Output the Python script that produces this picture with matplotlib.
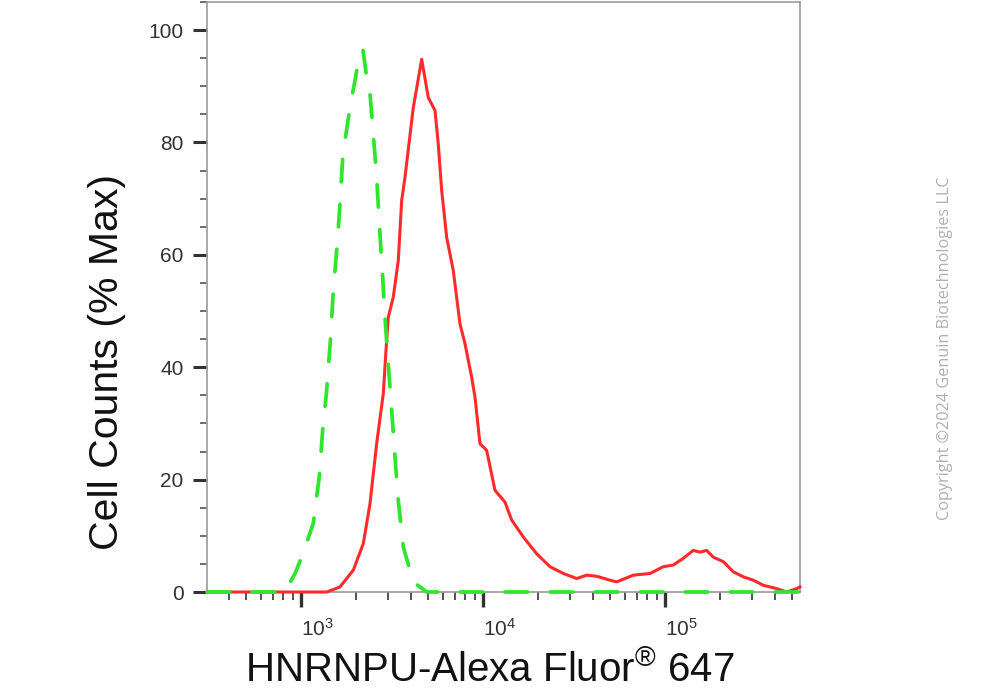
import matplotlib
matplotlib.use('Agg')
import matplotlib.pyplot as plt
import matplotlib.ticker as mticker
import numpy as np

plt.rcParams['font.family'] = ['Liberation Sans', 'DejaVu Sans']
plt.rcParams['mathtext.fontset'] = 'custom'
plt.rcParams['mathtext.rm'] = 'Liberation Sans'
plt.rcParams['mathtext.it'] = 'Liberation Sans:italic'

# isotype control (green dashed)
ctrl_x = [305, 817, 927, 1009, 1168, 1260, 1316, 1384, 1456, 1505, 1583, 1638,
          1701, 1858, 2057, 2191, 2296, 2394, 2487, 2605, 2693, 2797, 2894,
          3018, 3122, 3285, 3425, 3649, 4140, 4906, 552000]
ctrl_y = [0, 0, 3.3, 6.2, 12.2, 20.5, 28.8, 35.9, 45.4, 53.7, 62.0, 69.1,
          78.0, 86.2, 94.0, 96.5, 91.6, 88.7, 82.1, 73.8, 65.6, 57.2, 48.9,
          40.6, 34.1, 24.0, 16.3, 8.0, 1.8, 0, 0]

# HNRNPU stained (red solid)
hnrnpu_x = [305, 1384, 1638, 1939, 2199, 2394, 2605, 2833, 2931, 3018, 3215,
            3425, 3575, 3728, 4140, 4605, 5006, 5448, 5681, 5932, 6318, 6868,
            7476, 7964, 8667, 9036, 9627, 10478, 11638, 13210, 14379, 16649,
            19728, 23340, 27620, 32720, 37140, 42150, 49870, 54280, 66960,
            82730, 97880, 111100, 126000, 143000, 155700, 169500, 184300,
            209100, 237300, 269300, 305600, 346900, 411000, 466300, 529000,
            551000]
hnrnpu_y = [0, 0, 0.9, 3.9, 8.6, 15.7, 26.4, 35.3, 43.0, 48.9, 52.5, 59.0,
            69.7, 73.8, 86.2, 94.8, 88.0, 85.7, 79.7, 71.4, 63.1, 57.2, 47.7,
            44.2, 38.2, 34.7, 26.4, 25.2, 18.1, 16.0, 12.8, 9.8, 6.8, 4.5, 3.3,
            2.4, 3.0, 2.8, 2.1, 1.8, 3.0, 3.3, 4.5, 4.8, 6.0, 7.4, 7.1, 7.4,
            6.2, 5.4, 3.6, 2.7, 2.1, 1.2, 0.6, 0.0, 0.6, 0.9]

y_ticks = [0, 20, 40, 60, 80, 100]
x_ticks = [1e3, 1e4, 1e5]
x_tick_labels = [r'$\mathrm{10^{3}}$', r'$\mathrm{10^{4}}$', r'$\mathrm{10^{5}}$']

fig = plt.figure(figsize=(9.95, 7.0), dpi=100)
ax = fig.add_axes([207 / 995, 108 / 700, 593 / 995, 590 / 700])

ax.plot(hnrnpu_x, hnrnpu_y, color='#ff2a2a', lw=2.2, zorder=5, clip_on=False,
        solid_joinstyle='round')
ax.plot(ctrl_x, ctrl_y, color='#2ee62e', lw=2.7, zorder=6, clip_on=False,
        dashes=(6.0, 6.0), dash_capstyle='round')

ax.set_xscale('log')
ax.set_xlim(304.5, 551900)
ax.set_ylim(0, 105)

for side in ['left', 'bottom', 'top', 'right']:
    ax.spines[side].set_color('#9a9a9a')
    ax.spines[side].set_linewidth(1.2)

ax.set_yticks(y_ticks)
ax.yaxis.set_minor_locator(mticker.MultipleLocator(5))
ax.tick_params(axis='y', which='major', length=10, width=2.2, color='#333333',
               labelsize=15, labelcolor='#333333', pad=7)
ax.tick_params(axis='y', which='minor', length=5, width=1.2, color='#555555')

ax.set_xticks(x_ticks)
ax.set_xticklabels(x_tick_labels)
ax.xaxis.set_minor_locator(mticker.LogLocator(base=10, subs=np.arange(2, 10)))
ax.xaxis.set_minor_formatter(mticker.NullFormatter())
ax.tick_params(axis='x', which='major', length=11, width=2.4, color='#333333',
               labelsize=15, labelcolor='#333333', pad=8)
ax.tick_params(axis='x', which='minor', length=6, width=1.3, color='#444444')
for lab in ax.get_xticklabels():
    lab.set_horizontalalignment('left')

fig.text(107 / 995, 1 - 362 / 700, 'Cell Counts (% Max)', rotation=90,
         fontsize=29.5, ha='center', va='center', color='#111111')
fig.text(490 / 995, 1 - 670 / 700, r'HNRNPU-Alexa Fluor$^{\mathrm{®}}$ 647',
         fontsize=29, ha='center', va='center', color='#111111')

fig.text(945 / 995, 1 - 348 / 700, 'Copyright ©2024 Genuin Biotechnologies LLC',
         rotation=90, fontsize=11.7, ha='center', va='center', color='#b0b0b0',
         family=['Open Sans', 'DejaVu Sans'])

fig.savefig('out.png', dpi=100)
